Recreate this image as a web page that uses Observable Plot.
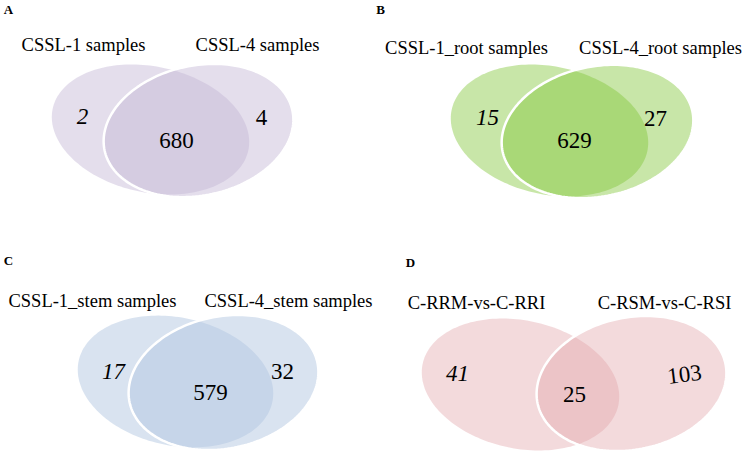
<!DOCTYPE html>
<html>
<head>
<meta charset="utf-8">
<script src="https://cdn.jsdelivr.net/npm/d3@7"></script>
<script src="https://cdn.jsdelivr.net/npm/@observablehq/plot@0.6"></script>
<style>
  html, body { margin: 0; padding: 0; background: #fff; }
  #chart svg { display: block; }
</style>
</head>
<body>
<div id="chart"></div>
<script>
// ---- Data ----
const panels = ["A", "B", "C", "D"];
const leftLabels = ["CSSL-1 samples", "CSSL-1_root samples", "CSSL-1_stem samples", "C-RRM-vs-C-RRI"];
const rightLabels = ["CSSL-4 samples", "CSSL-4_root samples", "CSSL-4_stem samples", "C-RSM-vs-C-RSI"];
const leftOnly = [2, 15, 17, 41];
const shared = [680, 629, 579, 25];
const rightOnly = [4, 27, 32, 103];

// ---- Layout (pixel space, used through identity-like scales) ----
const baseColors = ["#c3b6d5", "#82c639", "#b3c7e1", "#e1a3a7"];
const alphas = [0.45, 0.44, 0.5, 0.4];
const geo = [
  {L: {cx: 150, cy: 129, rx: 100, ry: 63, a: 12}, R: {cx: 198, cy: 130, rx: 96, ry: 65, a: -12},
   letter: [8, 9], tl: [83, 45], tr: [257, 45], nl: [82, 116], ns: [176, 140], nr: [261, 117], rot: 0},
  {L: {cx: 549, cy: 130, rx: 100, ry: 64, a: 12}, R: {cx: 597, cy: 131, rx: 97, ry: 65, a: -12},
   letter: [380, 9], tl: [466, 48], tr: [660, 48], nl: [487, 117], ns: [574, 140], nr: [655, 118], rot: 0},
  {L: {cx: 175, cy: 381, rx: 99, ry: 64, a: 12}, R: {cx: 223, cy: 382, rx: 96, ry: 66, a: -12},
   letter: [8, 260], tl: [92, 301], tr: [288, 301], nl: [113, 371], ns: [210, 392], nr: [282, 371], rot: 0},
  {L: {cx: 520, cy: 384, rx: 100, ry: 64, a: 12}, R: {cx: 631, cy: 383, rx: 96, ry: 66, a: -12},
   letter: [410, 262], tl: [476, 303], tr: [664, 303], nl: [457, 373], ns: [574, 394], nr: [684, 374], rot: -7}
];

function ellipsePoints(e, n = 180) {
  const t = e.a * Math.PI / 180;
  return d3.range(n).map(i => {
    const th = 2 * Math.PI * i / n;
    const x0 = e.rx * Math.cos(th), y0 = e.ry * Math.sin(th);
    return {x: e.cx + x0 * Math.cos(t) - y0 * Math.sin(t), y: e.cy + x0 * Math.sin(t) + y0 * Math.cos(t)};
  });
}

const marks = [];
panels.forEach((p, i) => {
  const g = geo[i];
  marks.push(Plot.line(ellipsePoints(g.L), {x: "x", y: "y", curve: "linear-closed",
    fill: baseColors[i], fillOpacity: alphas[i], stroke: "none"}));
  marks.push(Plot.line(ellipsePoints(g.R), {x: "x", y: "y", curve: "linear-closed",
    fill: baseColors[i], fillOpacity: alphas[i], stroke: "white", strokeWidth: 2.5}));
});

const textRows = panels.map((p, i) => ({i, p, ll: leftLabels[i], rl: rightLabels[i], lo: leftOnly[i], sh: shared[i], ro: rightOnly[i]}));
const serif = "'Liberation Serif', 'Times New Roman', serif";

marks.push(
  Plot.text(textRows, {x: d => geo[d.i].letter[0], y: d => geo[d.i].letter[1], text: "p",
    fontFamily: serif, fontWeight: "bold", fontSize: 13, fill: "black"}),
  Plot.text(textRows, {x: d => geo[d.i].tl[0], y: d => geo[d.i].tl[1], text: "ll",
    fontFamily: serif, fontSize: 18.5, fill: "black"}),
  Plot.text(textRows, {x: d => geo[d.i].tr[0], y: d => geo[d.i].tr[1], text: "rl",
    fontFamily: serif, fontSize: 18.5, fill: "black"}),
  Plot.text(textRows, {x: d => geo[d.i].nl[0], y: d => geo[d.i].nl[1], text: d => String(d.lo),
    fontFamily: serif, fontStyle: "italic", fontSize: 23, fill: "black"}),
  Plot.text(textRows, {x: d => geo[d.i].ns[0], y: d => geo[d.i].ns[1], text: d => String(d.sh),
    fontFamily: serif, fontSize: 23, fill: "black"}),
  Plot.text(textRows, {x: d => geo[d.i].nr[0], y: d => geo[d.i].nr[1], text: d => String(d.ro),
    rotate: d => geo[d.i].rot, fontFamily: serif, fontSize: 23, fill: "black"})
);

const chart = Plot.plot({
  width: 744,
  height: 453,
  margin: 0,
  x: {domain: [0, 744], axis: null},
  y: {domain: [0, 453], reverse: true, axis: null},
  style: {background: "white", overflow: "visible"},
  marks
});
document.getElementById("chart").appendChild(chart);
</script>
</body>
</html>
